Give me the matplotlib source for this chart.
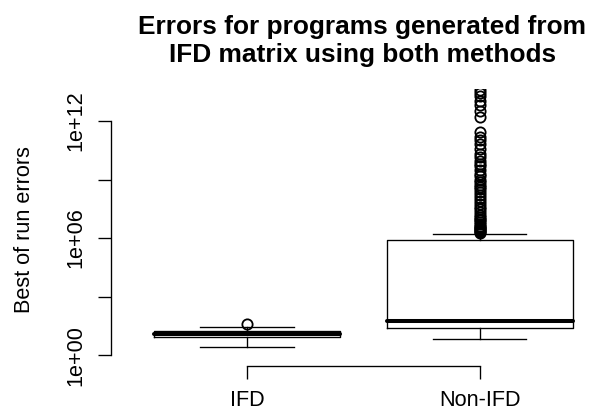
import numpy as np
import matplotlib
matplotlib.use("Agg")
import matplotlib.pyplot as plt

plt.rcParams['font.family'] = ['Liberation Sans', 'DejaVu Sans']

# values, stored as log10 exponents
groups = ["IFD", "Non-IFD"]
whislo_exp = [0.39, 0.82]
q1_exp = [0.92, 1.37]
med_exp = [1.08, 1.76]
q3_exp = [1.23, 5.90]
whishi_exp = [1.42, 6.20]
ifd_outliers_exp = [1.57]
nonifd_outliers_exp = [13.6, 13.45, 13.3, 13.05, 12.8, 12.5, 12.2,
                       11.45, 11.2, 11.0, 10.8, 10.55, 10.3, 10.15, 9.95,
                       9.8, 9.7, 9.5, 9.3, 9.2, 9.0, 8.85, 8.7, 8.6, 8.5,
                       8.35, 8.2, 8.05, 7.9, 7.75, 7.6, 7.5, 7.35, 7.2, 7.1,
                       7.0, 6.9, 6.8, 6.7, 6.6, 6.55, 6.5, 6.45, 6.4, 6.35,
                       6.3, 6.25]
outliers_exp = [ifd_outliers_exp, nonifd_outliers_exp]

ytick_exp = [0, 3, 6, 9, 12]
ytick_labels = ["1e+00", "", "1e+06", "", "1e+12"]

stats = []
for i, g in enumerate(groups):
    stats.append({
        "label": g,
        "whislo": 10 ** whislo_exp[i],
        "q1": 10 ** q1_exp[i],
        "med": 10 ** med_exp[i],
        "q3": 10 ** q3_exp[i],
        "whishi": 10 ** whishi_exp[i],
        "fliers": 10 ** np.array(outliers_exp[i]),
    })

W, H = 592, 419
fig = plt.figure(figsize=(W / 100, H / 100), dpi=100)
# R style plot region (extends past the right edge like the original)
ax = fig.add_axes([110.9 / W, (H - 366) / H, 505 / W, (366 - 89) / H])

lw = 0.97
ax.bxp(stats, positions=[1, 2], widths=0.8, capwidths=0.4,
       boxprops=dict(color="black", linewidth=lw),
       whiskerprops=dict(color="black", linewidth=lw),
       capprops=dict(color="black", linewidth=lw),
       medianprops=dict(color="black", linewidth=2.9, solid_capstyle="round"),
       flierprops=dict(marker="o", markersize=7.4, markerfacecolor="none",
                       markeredgecolor="black", markeredgewidth=1.3))

ax.set_yscale("log")
ax.set_ylim(10 ** -0.56, 10 ** 13.64)
ax.set_xlim(0.416, 2.584)

ax.set_yticks([10 ** e for e in ytick_exp])
ax.set_yticklabels(ytick_labels)
ax.yaxis.set_minor_locator(matplotlib.ticker.NullLocator())
ax.set_xticks([1, 2])
ax.set_xticklabels(groups)

for s in ["top", "right"]:
    ax.spines[s].set_visible(False)
ax.spines["left"].set_bounds(10 ** 0, 10 ** 12)
ax.spines["bottom"].set_bounds(1, 2)
ax.spines["left"].set_linewidth(lw)
ax.spines["bottom"].set_linewidth(lw)

ax.tick_params(axis="both", direction="out", length=9.4, width=lw,
               labelsize=15.6, colors="black")
ax.tick_params(axis="x", pad=8.0)
ax.tick_params(axis="y", pad=8.6, labelrotation=90)
for lab in ax.get_yticklabels():
    lab.set_va("center")

fig.text(25 / W, 1 - 230 / H, "Best of run errors", rotation=90,
         ha="center", va="center", fontsize=15.6)

fig.text(362.5 / W, 1 - 34 / H, "Errors for programs generated from",
         ha="center", va="baseline", fontsize=18.9, fontweight="bold")
fig.text(362.5 / W, 1 - 62 / H, "IFD matrix using both methods",
         ha="center", va="baseline", fontsize=18.9, fontweight="bold")

fig.savefig("out.png", dpi=100)
